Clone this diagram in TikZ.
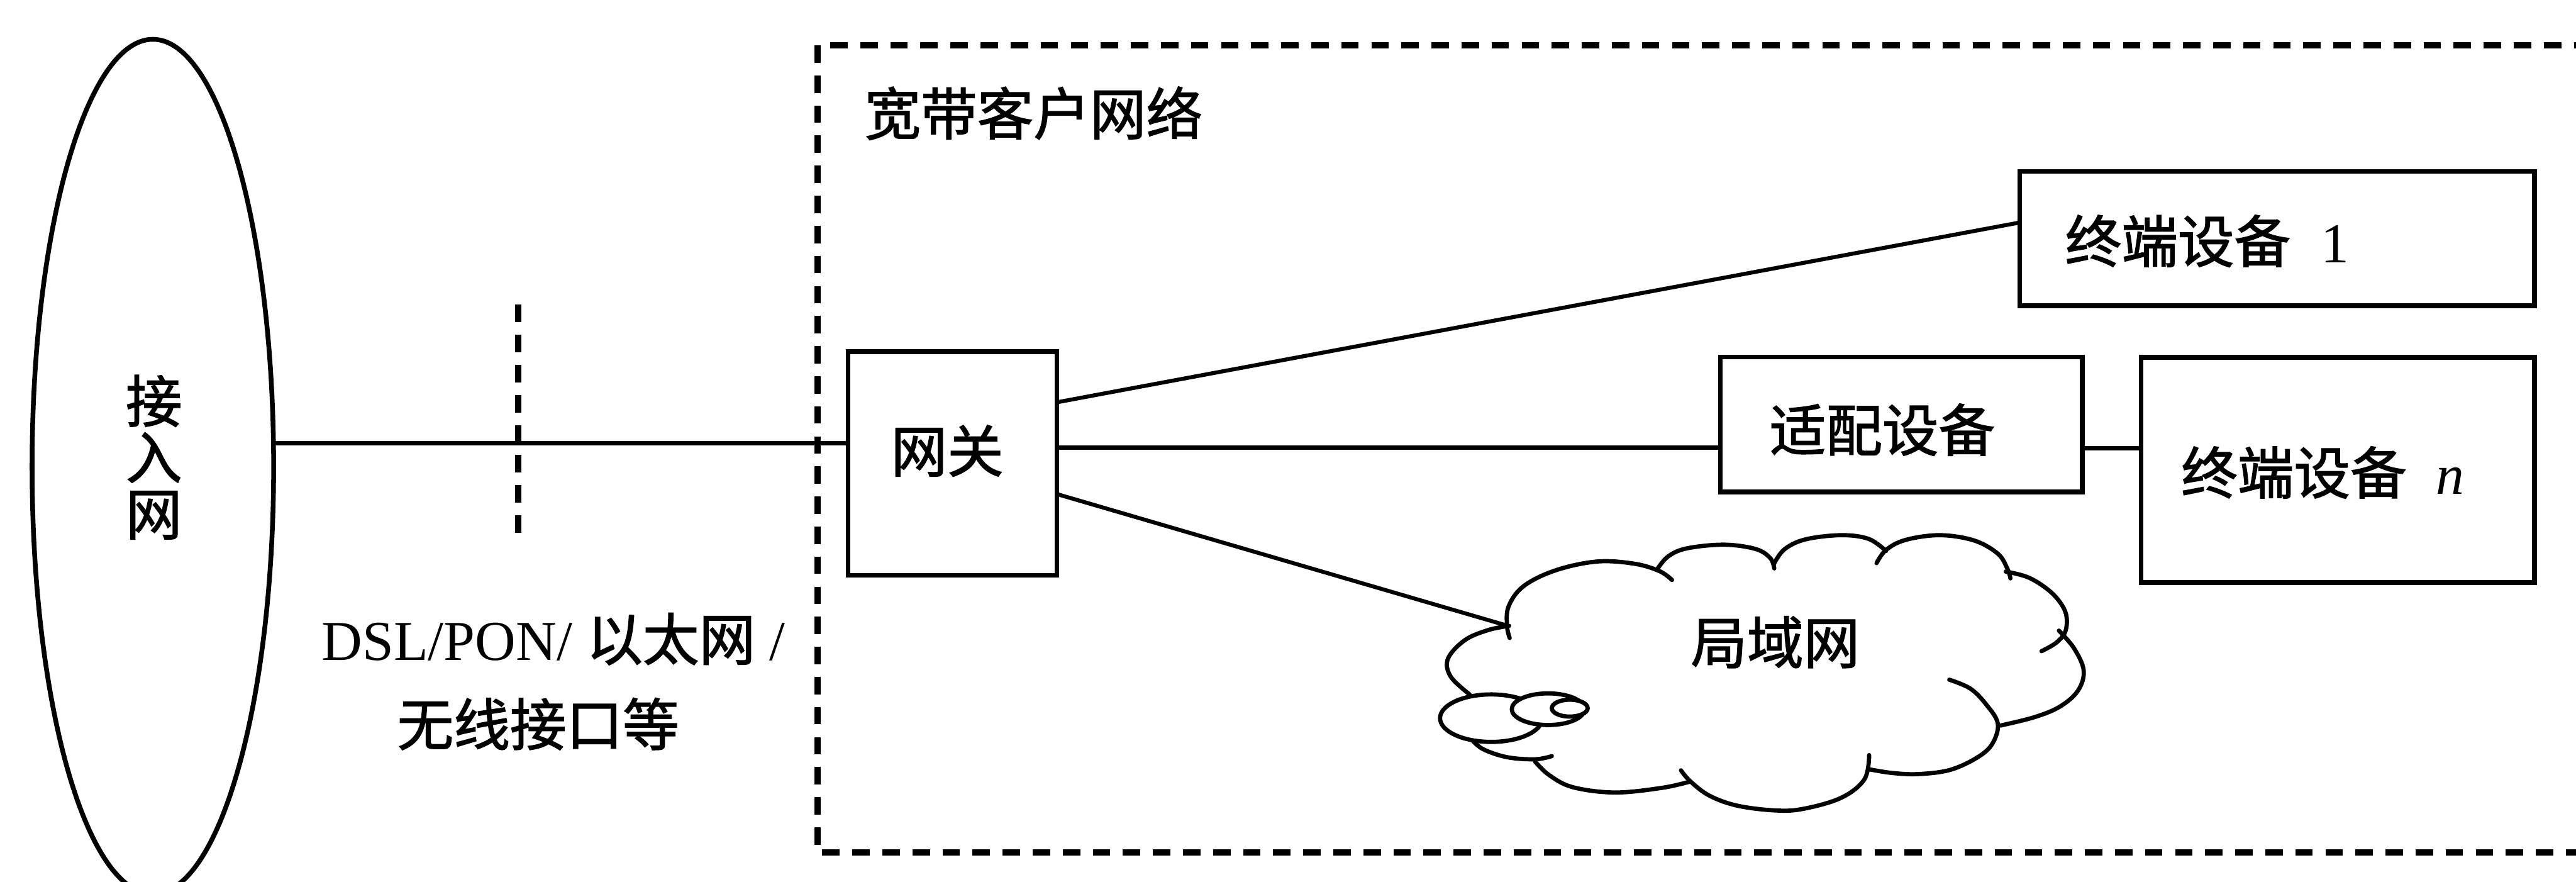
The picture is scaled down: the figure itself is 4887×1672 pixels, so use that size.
\documentclass[tikz,border=0pt]{standalone}
\usepackage{fontspec}
\setmainfont{Liberation Serif}
\newfontfamily\cjk[FakeBold=1.6]{Noto Sans CJK SC}
\usetikzlibrary{shapes.geometric}
\begin{document}
\begin{tikzpicture}[x=0.01cm,y=-0.01cm,
  every node/.style={inner sep=0pt,outer sep=0pt,font=\fontsize{30.4pt}{36pt}\selectfont},
  cjktext/.style={font=\cjk\fontsize{30.4pt}{36pt}\selectfont},
  boxnode/.style={draw,line width=0.09cm,rectangle},
  conn/.style={line width=0.075cm},
  dashline/.style={line width=0.115cm,dash pattern=on 0.33cm off 0.24cm},
  cloudline/.style={line width=0.08cm,line cap=round,line join=round}]
\useasboundingbox (0,0) rectangle (4887,1672);
\fill[white] (0,0) rectangle (4887,1672);
\clip (0,0) rectangle (4887,1672);

% access network
\node[draw,ellipse,line width=0.09cm,minimum width=4.58cm,minimum height=16.2cm] (access) at (290,885) {};
\node[align=center,font=\cjk\fontsize{30.4pt}{30.4pt}\selectfont] (accessTxt) at (292,867) {接\\入\\网};

% broadband customer network frame
\coordinate (frTL) at (1551,86);
\coordinate (frTL2) at (1575,86);
\coordinate (frBL) at (1551,1617);
\coordinate (frTR) at (4950,86);
\coordinate (frBR) at (4950,1617);
\draw[dashline] (frTL) -- (frBL) -- (frBR);
\draw[dashline] (frTL2) -- (frTR);
\node[cjktext,anchor=west] (title) at (1640,215) {宽带客户网络};

% interface marker
\coordinate (mkTop) at (983,578);
\coordinate (mkBot) at (983,1012);
\draw[dashline] (mkTop) -- (mkBot);
\node (if1) at (1050,1212) {DSL/PON/ {\cjk 以太网} /};
\node[cjktext] (if2) at (1021,1373) {无线接口等};

% gateway
\node[boxnode,minimum width=3.96cm,minimum height=4.24cm] (gateway) at (1807,879) {};
\node[cjktext] (gwTxt) at (1797,855) {网关};
\draw[conn] (access.11) -- (access.11 -| gateway.west);

% terminals and adapter
\node[boxnode,minimum width=9.76cm,minimum height=2.55cm] (term1) at (4320,452.5) {};
\node[anchor=west] (term1Txt) at (3918,457) {{\cjk 终端设备}\hspace{0.54em}1};
\node[boxnode,minimum width=6.86cm,minimum height=2.56cm] (adapter) at (3607,805) {};
\node[cjktext] (adTxt) at (3571,815) {适配设备};
\node[boxnode,minimum width=7.46cm,minimum height=4.27cm] (termn) at (4435,891.5) {};
\node[anchor=west] (termnTxt) at (4138,896) {{\cjk 终端设备}\hspace{0.52em}\textit{n}};

% connectors
\coordinate (gwU) at ([yshift=1.16cm]gateway.east);
\coordinate (gwM) at ([yshift=0.30cm]gateway.east);
\coordinate (gwL) at ([yshift=-0.58cm]gateway.east);
\coordinate (t1in) at ([yshift=0.305cm]term1.west);
\coordinate (adR) at ([yshift=-0.45cm]adapter.east);
\coordinate (cloudIn) at (2861,1187);
\draw[conn] (gwU) -- (t1in);
\draw[conn] (gwM) -- (gwM -| adapter.west);
\draw[conn] (adR) -- (adR -| termn.west);
\draw[conn] (gwL) -- (cloudIn);

% LAN cloud
\draw[cloudline] plot[smooth,tension=0.6] coordinates {(2788,1317) (2752,1283) (2747,1249) (2779,1214) (2823,1195) (2863,1187)};
\draw[cloudline] plot[smooth,tension=0.6] coordinates {(2864,1210) (2859,1187) (2862,1150) (2890,1112) (2950,1082) (3029,1065) (3100,1069) (3148,1083) (3172,1100)};
\draw[cloudline] plot[smooth,tension=0.6] coordinates {(3145,1078) (3165,1055) (3200,1040) (3270,1033) (3330,1041) (3358,1058) (3366,1078)};
\draw[cloudline] plot[smooth,tension=0.6] coordinates {(3365,1070) (3385,1042) (3425,1023) (3493,1015) (3545,1022) (3578,1045)};
\draw[cloudline] plot[smooth,tension=0.6] coordinates {(3560,1068) (3578,1043) (3615,1024) (3680,1015) (3745,1025) (3790,1050) (3808,1078) (3814,1097)};
\draw[cloudline] plot[smooth,tension=0.6] coordinates {(3805,1084) (3850,1096) (3893,1125) (3918,1160) (3919,1195) (3902,1218) (3873,1235)};
\draw[cloudline] plot[smooth,tension=0.6] coordinates {(3906,1196) (3935,1230) (3953,1272) (3942,1310) (3908,1340) (3860,1360) (3795,1376)};
\draw[cloudline] plot[smooth,tension=0.6] coordinates {(3698,1289) (3738,1306) (3768,1336) (3790,1372) (3780,1410) (3752,1436) (3700,1460) (3640,1468) (3590,1466) (3546,1459)};
\draw[cloudline] plot[smooth,tension=0.6] coordinates {(3546,1432) (3537,1478) (3493,1513) (3421,1534) (3368,1537) (3296,1528) (3243,1509) (3207,1482) (3189,1461)};
\draw[cloudline] plot[smooth,tension=0.6] coordinates {(3207,1482) (3154,1494) (3064,1503) (2984,1493) (2939,1470) (2912,1444)};
\draw[cloudline] plot[smooth,tension=0.6] coordinates {(2944,1434) (2912,1440) (2859,1436) (2814,1421) (2792,1403)};
\draw[cloudline,fill=white] (2829,1362) ellipse [x radius=0.97cm,y radius=0.45cm];
\draw[cloudline,fill=white] (2937,1345) ellipse [x radius=0.69cm,y radius=0.30cm];
\draw[cloudline,fill=white] (2978,1343) ellipse [x radius=0.34cm,y radius=0.16cm];
\node[cjktext] (lanTxt) at (3368,1218) {局域网};
\end{tikzpicture}
\end{document}
